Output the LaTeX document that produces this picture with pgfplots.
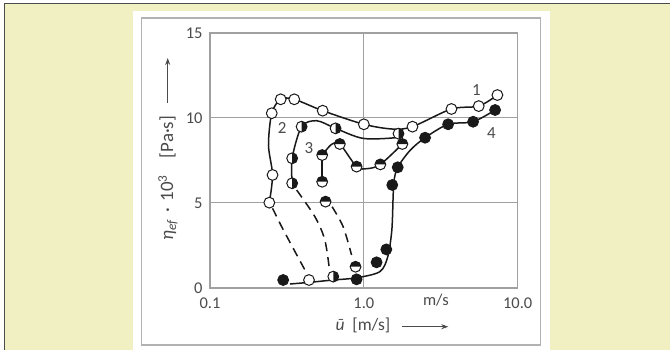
\documentclass[border=0pt]{standalone}
\usepackage{pgfplots}
\pgfplotsset{compat=1.18}
\usepackage{fontspec}
\setmainfont{Carlito}
\usetikzlibrary{arrows.meta}
\definecolor{cream}{RGB}{240,240,195}
\definecolor{lblgray}{RGB}{75,75,75}
\definecolor{gridgray}{RGB}{160,160,160}
\definecolor{framegray}{RGB}{178,178,178}
\definecolor{curveblack}{RGB}{25,25,25}

\pgfdeclareplotmark{halfR}{%
  \pgfpathcircle{\pgfpointorigin}{\pgfplotmarksize}%
  \pgfsetfillcolor{white}\pgfusepathqfill
  \pgfpathmoveto{\pgfpoint{0pt}{\pgfplotmarksize}}%
  \pgfpatharc{90}{-90}{\pgfplotmarksize}%
  \pgfpathclose
  \pgfsetfillcolor{curveblack}\pgfusepathqfill
  \pgfpathcircle{\pgfpointorigin}{\pgfplotmarksize}%
  \pgfusepathqstroke
}
\pgfdeclareplotmark{halfT}{%
  \pgfpathcircle{\pgfpointorigin}{\pgfplotmarksize}%
  \pgfsetfillcolor{white}\pgfusepathqfill
  \pgfpathmoveto{\pgfpoint{-\pgfplotmarksize}{0pt}}%
  \pgfpatharc{180}{0}{\pgfplotmarksize}%
  \pgfpathclose
  \pgfsetfillcolor{curveblack}\pgfusepathqfill
  \pgfpathcircle{\pgfpointorigin}{\pgfplotmarksize}%
  \pgfusepathqstroke
}

\begin{document}
\begin{tikzpicture}
\useasboundingbox (0,0) rectangle (670bp,350bp);
\fill[white] (0,0) rectangle (670bp,350bp);
\fill[cream] (4bp,0) rectangle (670bp,346bp);
\draw[black!70, line width=1bp] (4bp,0) -- (4bp,346bp) -- (670bp,346bp);
\fill[white] (133bp,0) rectangle (550bp,339bp);
\draw[framegray, line width=1.5bp] (141.7bp,5bp) rectangle (540.7bp,332bp);
\begin{axis}[
  at={(210bp,62bp)}, anchor=south west,
  scale only axis, width=307.7bp, height=255bp,
  xmode=log, xmin=0.1, xmax=10, ymin=0, ymax=15,
  xtick={0.1,1,10}, xticklabels={0.1,1.0,10.0},
  ytick={0,5,10,15}, yticklabels={0,5,10,15},
  xminorticks=false, yminorticks=false,
  grid=major, major grid style={gridgray, line width=1bp},
  axis line style={gridgray, line width=1.1bp},
  tick style={draw=none},
  /pgf/number format/assume math mode=true,
  tick label style={font=\fontsize{16.5}{16.5}\selectfont, text=lblgray},
  xticklabel style={yshift=-6bp},
  yticklabel style={xshift=-4bp},
  clip=false,
  xlabel={\fontsize{17.5}{17.5}\selectfont\itshape ū\upshape\ \ [m/s]},
  xlabel style={at={(axis description cs:0.497,-0.145)}, anchor=center, text=lblgray},
  ylabel={\fontsize{19}{19}\selectfont\itshape η\textsubscript{ef}\upshape\hspace{0.35em}·\hspace{0.35em}10\textsuperscript{3}\hspace{0.9em}[Pa·s]},
  ylabel style={at={(axis description cs:-0.1365,0.431)}, anchor=center, rotate=0, text=lblgray},
]
% ---- lines
\addplot[curveblack, line width=1.5bp, smooth, mark=none] coordinates {
 (0.243,5.02) (0.255,6.65) (0.240,8.4) (0.252,10.28) (0.288,11.1) (0.353,11.1)
 (0.540,10.43) (1.0,9.63) (1.54,9.35) (2.07,9.49) (3.71,10.53) (5.58,10.7) (7.38,11.35)};
\addplot[curveblack, line width=1.5bp, smooth, mark=none] coordinates {
 (0.342,6.16) (0.342,7.63) (0.394,9.49) (0.493,9.84) (0.655,9.39) (0.99,8.8) (1.63,8.85) (1.68,9.08)};
\addplot[curveblack, line width=1.5bp, mark=none] coordinates {
 (0.536,6.25) (0.536,7.82)};
\addplot[curveblack, line width=1.5bp, smooth, mark=none] coordinates {
 (0.536,7.82) (0.617,8.45) (0.698,8.47) (0.897,7.14) (1.05,7.02) (1.28,7.27) (1.78,8.47)};
\addplot[curveblack, line width=1.5bp, smooth, mark=none] coordinates {
 (0.331,0.235) (0.44,0.33) (0.63,0.47) (0.897,0.6) (1.27,0.96) (1.43,1.84) (1.52,3.4)
 (1.55,5.37) (1.57,6.3) (1.66,7.10) (2.0,8.1) (2.50,8.84) (3.53,9.63) (5.13,9.78) (7.13,10.47)};
% ---- dashed
\addplot[curveblack, line width=1.5bp, dash pattern=on 9bp off 6bp, smooth, mark=none] coordinates {
 (0.255,4.69) (0.30,3.41) (0.414,1.06)};
\addplot[curveblack, line width=1.5bp, dash pattern=on 9bp off 6bp, smooth, mark=none] coordinates {
 (0.366,5.76) (0.481,4.19) (0.558,2.82) (0.60,0.96)};
\addplot[curveblack, line width=1.5bp, dash pattern=on 9bp off 6bp, smooth, mark=none] coordinates {
 (0.622,4.78) (0.734,3.6) (0.832,1.94)};
% ---- marks
\addplot[only marks, mark=*, mark size=5.4bp, mark options={draw=curveblack, fill=white, line width=1bp}] coordinates {
 (0.243,5.02) (0.255,6.65) (0.252,10.28) (0.288,11.1) (0.353,11.1) (0.540,10.43)
 (1.0,9.63) (2.07,9.49) (3.71,10.53) (5.58,10.7) (7.38,11.35) (0.44,0.47)};
\addplot[only marks, mark=halfR, mark size=5.4bp, mark options={draw=curveblack, line width=1bp}] coordinates {
 (0.342,6.16) (0.342,7.63) (0.394,9.49) (0.655,9.39) (1.68,9.08) (0.633,0.67)};
\addplot[only marks, mark=halfT, mark size=5.4bp, mark options={draw=curveblack, line width=1bp}] coordinates {
 (0.536,7.82) (0.536,6.25) (0.564,5.08) (0.698,8.47) (0.897,7.14) (1.28,7.27) (1.78,8.47) (0.883,1.25)};
\addplot[only marks, mark=*, mark size=5.4bp, mark options={draw=curveblack, fill=curveblack, line width=1bp}] coordinates {
 (0.299,0.47) (0.897,0.51) (1.21,1.51) (1.40,2.27) (1.53,6.06) (1.66,7.10)
 (2.50,8.84) (3.53,9.63) (5.13,9.78) (7.13,10.47)};
% ---- labels
\node[text=lblgray, font=\fontsize{17}{17}\selectfont] at (axis cs:5.4,11.65) {1};
\node[text=lblgray, font=\fontsize{17}{17}\selectfont] at (axis cs:0.294,9.43) {2};
\node[text=lblgray, font=\fontsize{17}{17}\selectfont] at (axis cs:0.44,8.22) {3};
\node[text=lblgray, font=\fontsize{17}{17}\selectfont] at (axis cs:6.74,9.14) {4};
\node[text=lblgray, font=\fontsize{16.5}{16.5}\selectfont] at (axis cs:2.94,-0.7) {m/s};
\end{axis}
\draw[lblgray, line width=1bp, -{Stealth[length=7bp,width=5bp]}] (167.7bp,247bp) -- (167.7bp,292bp);
\draw[lblgray, line width=1bp, -{Stealth[length=7bp,width=5bp]}] (401.7bp,23.3bp) -- (448.3bp,23.3bp);
\end{tikzpicture}
\end{document}
